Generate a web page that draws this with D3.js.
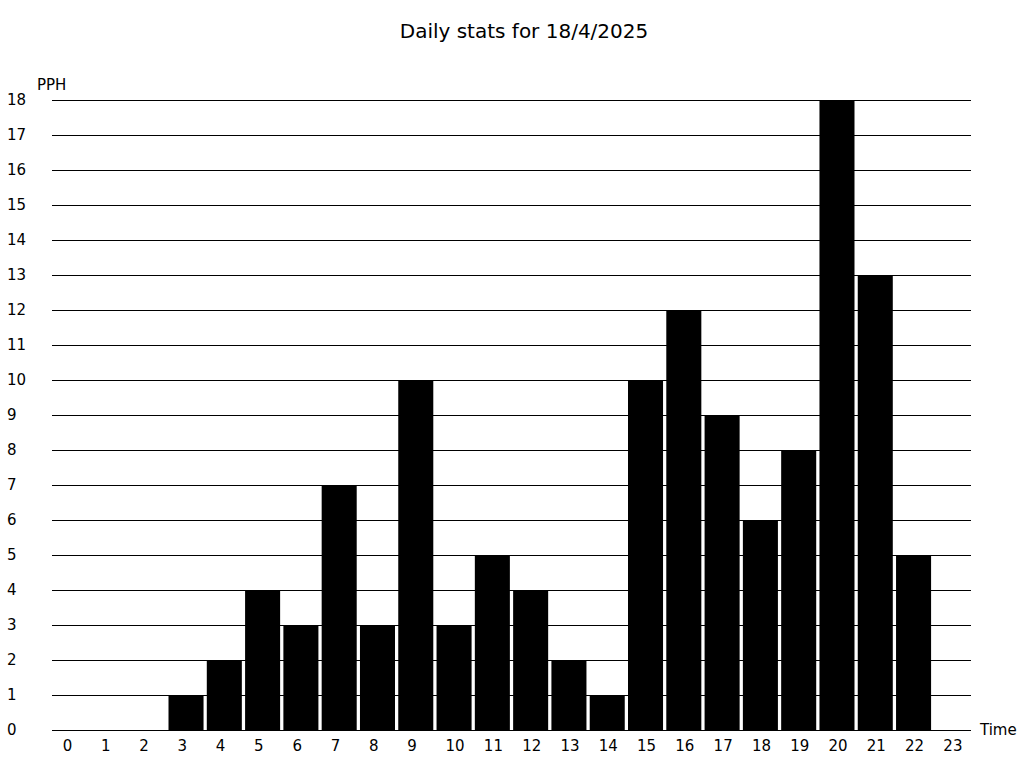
<!DOCTYPE html>
<html><head><meta charset="utf-8">
<script src="https://cdn.jsdelivr.net/npm/d3@7"></script>
<style>body{margin:0;background:#fff}svg{display:block}text{font-family:"DejaVu Sans",sans-serif;fill:#000}</style>
</head><body>
<svg id="c" width="1024" height="768"></svg>
<script>
const title = "Daily stats for 18/4/2025";
const yLabel = "PPH";
const xLabel = "Time";
const hours = ["0","1","2","3","4","5","6","7","8","9","10","11","12","13","14","15","16","17","18","19","20","21","22","23"];
const values = [0,0,0,1,2,4,3,7,3,10,3,5,4,2,1,10,12,9,6,8,18,13,5,0];
const yTicks = d3.range(0, 19);

(function () {
const svg = d3.select("#c");
const mLeft = 52, mRight = 971, mTop = 100, mBottom = 730;
const x = d3.scaleBand().domain(hours).range([mLeft, mRight]).paddingInner(0.085).paddingOuter(0.0425);
const y = d3.scaleLinear().domain([0, 18]).range([mBottom, mTop]);

svg.append("text").attr("x", 524).attr("y", 38).attr("text-anchor", "middle").attr("font-size", 20).text(title);

svg.append("g").selectAll("line").data(yTicks).join("line")
  .attr("x1", mLeft).attr("x2", mRight).attr("y1", d => Math.round(y(d)) + 0.5).attr("y2", d => Math.round(y(d)) + 0.5)
  .attr("stroke", "#000").attr("stroke-width", 1);

svg.append("g").selectAll("text").data(yTicks).join("text")
  .attr("x", 7).attr("y", d => y(d)).attr("dy", "0.35em").attr("font-size", 15).text(d => d);

svg.append("g").selectAll("rect").data(values).join("rect")
  .attr("x", (d, i) => x(hours[i])).attr("width", x.bandwidth())
  .attr("y", d => y(d)).attr("height", d => y(0) - y(d)).attr("fill", "#000");

svg.append("g").selectAll("text").data(hours).join("text")
  .attr("x", d => x(d) + x.bandwidth() / 2 - 8.5).attr("y", 751).attr("font-size", 15).text(d => d);

svg.append("text").attr("x", 37).attr("y", 90).attr("font-size", 15).text(yLabel);
svg.append("text").attr("x", 980).attr("y", 735).attr("font-size", 15).text(xLabel);
})();
</script>
</body></html>
